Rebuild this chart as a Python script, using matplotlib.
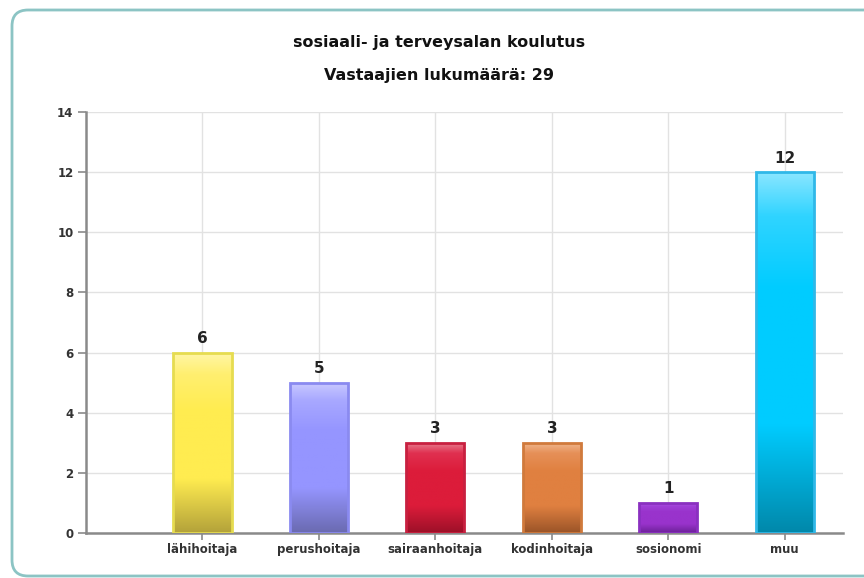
import numpy as np
import matplotlib
matplotlib.use("Agg")
import matplotlib.pyplot as plt
from matplotlib.colors import LinearSegmentedColormap
from matplotlib.patches import FancyBboxPatch

# data
categories = ["lähihoitaja", "perushoitaja", "sairaanhoitaja", "kodinhoitaja", "sosionomi", "muu"]
values = [6, 5, 3, 3, 1, 12]
title = "sosiaali- ja terveysalan koulutus"
subtitle = "Vastaajien lukumäärä: 29"
y_ticks = [0, 2, 4, 6, 8, 10, 12, 14]

# gradient stops per bar: (top, highlight, mid, bottom), edge colour
bar_styles = [
    (["#fff6a8", "#ffef70", "#ffec50", "#b3a23a"], "#e6dc50"),
    (["#cacaff", "#a8a8ff", "#9595ff", "#6a6ab0"], "#8a8af0"),
    (["#e88090", "#e03050", "#dc1c3a", "#9c1028"], "#c82040"),
    (["#f0b890", "#e69058", "#e08040", "#9a5428"], "#d07a3c"),
    (["#c070e8", "#a040d8", "#9933cc", "#6c2098"], "#8a30c0"),
    (["#8ae6ff", "#30d4ff", "#00ccff", "#0088aa"], "#30b8e8"),
]

fig = plt.figure(figsize=(8.64, 5.78), dpi=100)

# outer rounded frame, drawn in pixel units
bg = fig.add_axes([0, 0, 1, 1], zorder=-5)
bg.set_xlim(0, 864)
bg.set_ylim(578, 0)
bg.axis("off")
frame = FancyBboxPatch((12, 10), 880, 566, boxstyle="round,pad=0,rounding_size=16",
                       facecolor="white", edgecolor="#8cc4c4", linewidth=2.0)
bg.add_patch(frame)

ax = fig.add_axes([0.0995, 0.0779, 0.8762, 0.7283])
ax.set_facecolor("none")

x = np.arange(1, len(categories) + 1)
width = 0.5

for xi, v, (stops, edge) in zip(x, values, bar_styles):
    cmap = LinearSegmentedColormap.from_list(
        "g", [(0.0, stops[3]), (0.3, stops[2]), (0.68, stops[2]), (0.88, stops[1]), (1.0, stops[0])])
    grad = np.linspace(0, 1, 256).reshape(-1, 1)
    bar = ax.bar(xi, v, width=width, facecolor="none", edgecolor=edge, linewidth=2.0, zorder=4)[0]
    im = ax.imshow(grad, cmap=cmap, origin="lower", aspect="auto",
                   extent=[xi - width / 2, xi + width / 2, 0, v], zorder=3)
    im.set_clip_path(bar)
    ax.text(xi, v + 0.22, str(v), ha="center", va="bottom", fontsize=11,
            fontweight="bold", color="#222222")

ax.set_xlim(0, 6.5)
ax.set_ylim(0, 14)
ax.set_xticks(x)
ax.set_xticklabels(categories, fontsize=8.5, fontweight="bold", color="#333333")
ax.set_yticks(y_ticks)
ax.set_yticklabels([str(t) for t in y_ticks], fontsize=8.5, fontweight="bold", color="#333333")
ax.grid(True, color="#e2e2e2", linewidth=1.0, zorder=0)
ax.set_axisbelow(True)

for side in ["top", "right"]:
    ax.spines[side].set_visible(False)
for side in ["left", "bottom"]:
    ax.spines[side].set_color("#8a8a8a")
    ax.spines[side].set_linewidth(1.8)
ax.tick_params(axis="y", length=6, color="#8a8a8a", width=1.2, pad=3)
ax.tick_params(axis="x", length=5, color="#8a8a8a", width=1.2, pad=2)

fig.text(0.508, 0.927, title, ha="center", va="center", fontsize=11.5, fontweight="bold", color="#111111")
fig.text(0.508, 0.870, subtitle, ha="center", va="center", fontsize=11.5, fontweight="bold", color="#111111")

fig.savefig("out.png", dpi=100)
